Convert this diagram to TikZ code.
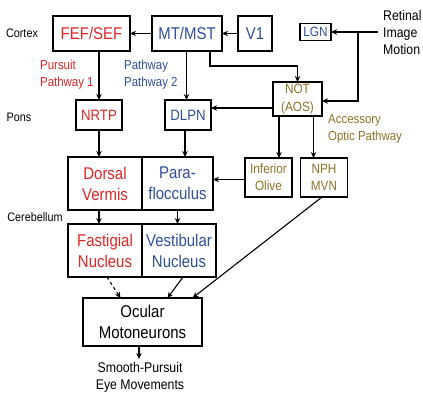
\documentclass[tikz,border=0pt]{standalone}
\usepackage{fontspec}
\setmainfont{Liberation Sans}[FakeStretch=0.88]
\usepackage{xcolor}
\usepackage{tikz}
\usetikzlibrary{calc,arrows.meta}
\usetikzlibrary{positioning}

\definecolor{pursuitred}{RGB}{222,38,38}
\definecolor{pathblue}{RGB}{45,78,155}
\definecolor{aosolive}{RGB}{140,112,40}

\begin{document}
\begin{tikzpicture}[
        x=1pt, y=-1pt,
        area/.style={draw=black, line width=1.1pt, inner sep=0pt, outer sep=0pt, align=center},
        bigtxt/.style={font=\fontsize{17}{21}\selectfont},
        smalltxt/.style={font=\fontsize{13.4}{18}\selectfont},
        lbl/.style={font=\fontsize{12.3}{14}\selectfont},
        pathlbl/.style={font=\fontsize{13}{17}\selectfont, align=left, inner sep=0pt},
        flow/.style={line width=1.1pt, -{Stealth[length=6pt,width=5.5pt,inset=2pt]}}
    ]

    \useasboundingbox (0,0) rectangle (423,393);

    % cortex
    \node[area, bigtxt, text=pursuitred, minimum width=77pt, minimum height=35pt] (fef) at (91.5,33.5) {FEF/SEF};
    \node[area, bigtxt, text=pathblue, minimum width=70pt, minimum height=35pt] (mt) at (187,33.5) {MT/MST};
    \node[area, bigtxt, text=pathblue, minimum width=34pt, minimum height=35pt] (v1) at (255,33.5) {V1};
    \node[area, smalltxt, text=pathblue, minimum width=31pt, minimum height=17pt] (lgn) at (315.5,32) {LGN};
    \node[pathlbl, font=\fontsize{14}{17}\selectfont, anchor=west] (retina) at (383,32) {Retinal\\Image\\Motion};
    \node[area, smalltxt, text=aosolive, minimum width=49pt, minimum height=34pt] (not) at (297.5,99) {NOT\\(AOS)};

    % pons
    \node[area, bigtxt, text=pursuitred, font=\fontsize{15}{21}\selectfont, minimum width=46pt, minimum height=30pt] (nrtp) at (99,115) {NRTP};
    \node[area, bigtxt, text=pathblue, font=\fontsize{15}{21}\selectfont, minimum width=46pt, minimum height=30pt] (dlpn) at (188,115) {DLPN};

    % cerebellum
    \node[area, bigtxt, text=pursuitred, minimum width=74pt, minimum height=53pt] (vermis) at (105,183.5) {Dorsal\\Vermis};
    \node[area, bigtxt, text=pathblue, minimum width=71pt, minimum height=53pt, right=0pt of vermis] (floc) {Para-\\flocculus};
    \node[area, bigtxt, text=pursuitred, minimum width=74pt, minimum height=53pt] (fastig) at (105,250.5) {Fastigial\\Nucleus};
    \node[area, bigtxt, text=pathblue, minimum width=74pt, minimum height=53pt, right=0pt of fastig] (vestib) {Vestibular\\Nucleus};
    \node[area, text=aosolive, font=\fontsize{13.4}{17}\selectfont, minimum width=47pt, minimum height=39pt] (olive) at (268.5,177.5) {Inferior\\Olive};
    \node[area, text=aosolive, font=\fontsize{13.4}{17}\selectfont, minimum width=47pt, minimum height=39pt] (nph) at (324,177.5) {NPH\\MVN};

    % output
    \node[area, bigtxt, minimum width=119pt, minimum height=48pt] (ocular) at (142.5,322) {Ocular\\Motoneurons};
    \node[pathlbl, font=\fontsize{14}{17}\selectfont, align=center] (eyemov) at (140,377) {Smooth-Pursuit\\Eye Movements};

    % side labels
    \node[lbl] (cortex) at (22,33) {Cortex};
    \node[lbl] (pons) at (19,117) {Pons};
    \node[lbl] (cereb) at (35,217) {Cerebellum};
    \node[pathlbl, text=pursuitred, anchor=west] (path1) at (40,75) {Pursuit\\Pathway 1};
    \node[pathlbl, text=pathblue, anchor=west] (path2) at (124,75) {Pathway\\Pathway 2};
    \node[pathlbl, text=aosolive, anchor=west] (aop) at (328,129) {Accessory\\Optic Pathway};

    \coordinate (split) at (358,32);

    % cortical connections
    \draw[flow] (mt.west) -- (fef.east);
    \draw[flow] (v1.west) -- (mt.east);
    \draw[flow] ([xshift=-5pt]retina.west) -- (lgn.east);
    \draw[flow] (split) |- ([yshift=-2pt]not.east);
    \draw[flow] ([xshift=-12pt]mt.south east) -- ++(0,15) -| (not.north);

    % pursuit pathways
    \draw[flow] (nrtp.north |- fef.south) -- (nrtp.north);
    \draw[flow] ([xshift=-1.5pt]dlpn.north |- mt.south) -- ([xshift=-1.5pt]dlpn.north);
    \draw[flow] ([yshift=-9pt]not.west) -- ([yshift=-9pt]not.west -| dlpn.east);
    \draw[flow] (nrtp.south) -- (nrtp.south |- vermis.north);
    \draw[flow] ([xshift=-3pt]dlpn.south) -- ([xshift=-3pt]dlpn.south |- floc.north);
    \draw[flow] (vermis.south -| nrtp) -- (fastig.north -| nrtp);
    \draw[flow] (floc.south) -- (floc.south |- vestib.north);

    % accessory optic pathway
    \draw[flow] ([xshift=-18.5pt]not.south) -- ([xshift=-18.5pt]not.south |- olive.north);
    \draw[flow] ([xshift=16pt]not.south) -- ([xshift=16pt]not.south |- nph.north);
    \draw[flow] ([yshift=-2pt]olive.west) -- ([yshift=-2pt]olive.west -| floc.east);

    % to motoneurons
    \draw[flow, dashed] ([xshift=2pt]fastig.south) -- ([xshift=-22pt]ocular.north);
    \draw[flow] ([xshift=4pt]vestib.south) -- ([xshift=25pt]ocular.north);
    \draw[flow] ([xshift=-2pt]nph.south) -- ([xshift=50pt]ocular.north);
    \draw[flow] ([xshift=-3.5pt]ocular.south) -- ++(0,13);

\end{tikzpicture}
\end{document}
